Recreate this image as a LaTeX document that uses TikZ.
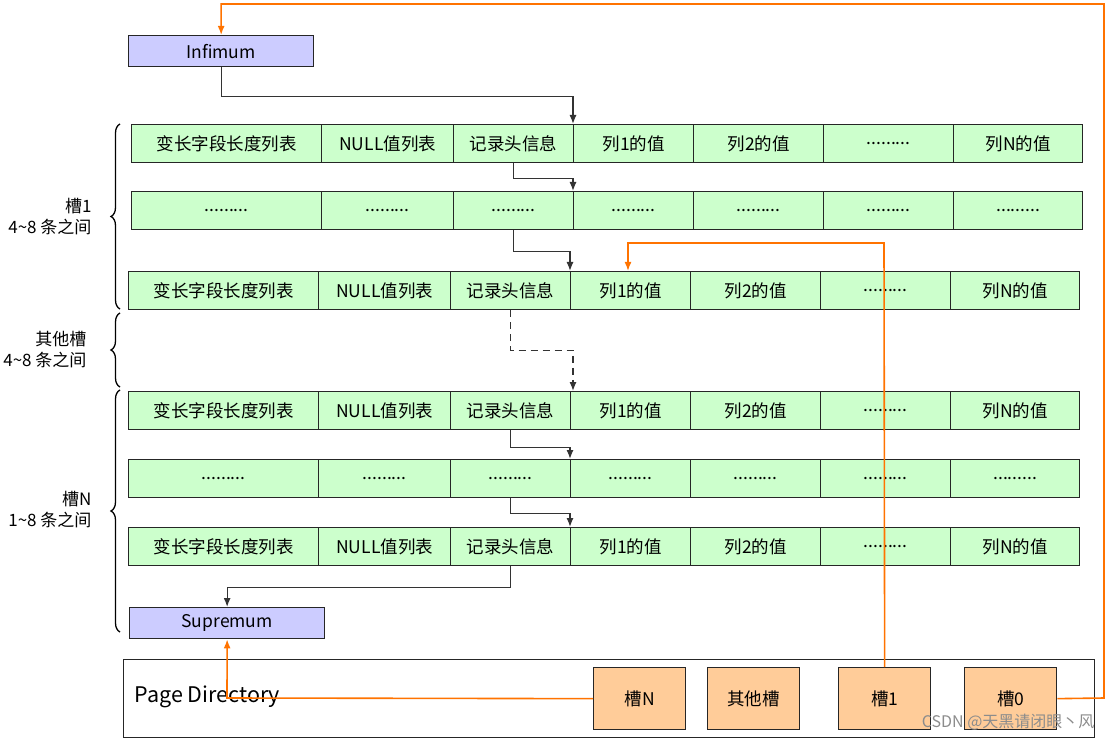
\documentclass[tikz,border=0pt]{standalone}
\usepackage{fontspec}
\setmainfont{Noto Sans CJK SC}
\usetikzlibrary{arrows.meta,decorations.pathreplacing}
\newcommand{\mydots}{.........}
\begin{document}
\begin{tikzpicture}[x=1pt,y=-1pt,
 cell/.style={draw=black!85,fill=green!20,line width=1.3pt,font=\fontsize{17.5}{17.5}\selectfont},
 pur/.style={draw=black!85,fill=blue!20,line width=1.3pt,font=\fontsize{17.5}{17.5}\selectfont},
 slot/.style={draw=black!85,fill=orange!40,line width=1.3pt,font=\fontsize{17.5}{17.5}\selectfont},
 conn/.style={draw=black!80,line width=1.3pt,-{Latex[length=9pt,width=7pt]}},
 oconn/.style={draw=orange!90!red,line width=1.6pt,-{Latex[length=9pt,width=7pt]}},
 lbl/.style={font=\fontsize{17}{21}\selectfont,align=right,anchor=east}]
\useasboundingbox (0,0) rectangle (1108,743);
\newcommand{\mkrow}[4]{% name, shift, ytop, type
 \foreach \a/\b/\t [count=\i] in {131/321/变长字段长度列表,321/453/NULL值列表,453/573/记录头信息,573/693/列1的值,693/823/列2的值,823/953/\mydots,953/1082/列N的值}{
  \ifnum#4=1 \def\celltxt{\mydots}\else\def\celltxt{\t}\fi
  \node[cell,minimum width={\b-\a},minimum height=38,inner sep=0,anchor=north west] (#1-\i) at (\a+#2,#3) {\celltxt};}}
\mkrow{r1}{0}{124}{0}
\mkrow{r2}{0}{191}{1}
\mkrow{r3}{-3}{271}{0}
\mkrow{r4}{-3}{391}{0}
\mkrow{r5}{-3}{459}{1}
\mkrow{r6}{-3}{527}{0}
\node[pur,minimum width=185,minimum height=31,inner sep=0,anchor=north west] (inf) at (128,35) {Infimum};
\node[pur,minimum width=195,minimum height=31,inner sep=0,anchor=north west] (sup) at (129,607) {Supremum};
\node[draw=black!85,line width=1.3pt,minimum width=971,minimum height=78,inner sep=0,anchor=north west] (pd) at (123,659) {};
\node[anchor=west,font=\fontsize{21.5}{21.5}\selectfont] (pdl) at (131,697) {Page Directory};
\foreach \n/\x/\t in {sN/593/槽N,so/707/其他槽,s1/838/槽1,s0/964/槽0}
 \node[slot,minimum width=92,minimum height=62,inner sep=0,anchor=north west] (\n) at (\x,667) {\t};
\draw[conn] (inf.south) -- ++(0,29) -| (r1-4.north west);
\draw[conn] (r1-3.south) -- ++(0,15) -| (r2-4.north west);
\draw[conn] (r2-3.south) -- ++(0,21) -| (r3-4.north west);
\draw[conn,dashed,dash pattern=on 7pt off 5pt] (r3-3.south) -- ++(0,40) -| ([xshift=3pt]r4-4.north west);
\draw[conn] (r4-3.south) -- ++(0,17) -| (r5-4.north west);
\draw[conn] (r5-3.south) -- ++(0,15) -| (r6-4.north west);
\draw[conn] (r6-3.south) -- ++(0,21) -| (sup.north);
\draw[oconn] (s0.east) -- (1104,698) -- (1104,4) -| (inf.north);
\draw[oconn] (s1.north) -- (884,243) -| ([xshift=58pt]r3-4.north west);
\draw[oconn] (sN.west) -- (227,698) -- (sup.south);
\draw[decorate,decoration={brace,amplitude=9pt},line width=1.3pt] (120,309) -- (120,124);
\draw[decorate,decoration={brace,amplitude=9pt},line width=1.3pt] (120,387) -- (120,313);
\draw[decorate,decoration={brace,amplitude=9pt},line width=1.3pt] (120,632) -- (120,390);
\node[lbl] (b1) at (95,217) {槽1\\4\textasciitilde8 条之间};
\node[lbl] (b2) at (90,350) {其他槽\\4\textasciitilde8 条之间};
\node[lbl] (b3) at (95,510) {槽N\\1\textasciitilde8 条之间};
\node[anchor=east,text=black!45,font=\fontsize{16}{16}\selectfont] (wm) at (1098,722) {CSDN @天黑请闭眼丶风};
\end{tikzpicture}
\end{document}
